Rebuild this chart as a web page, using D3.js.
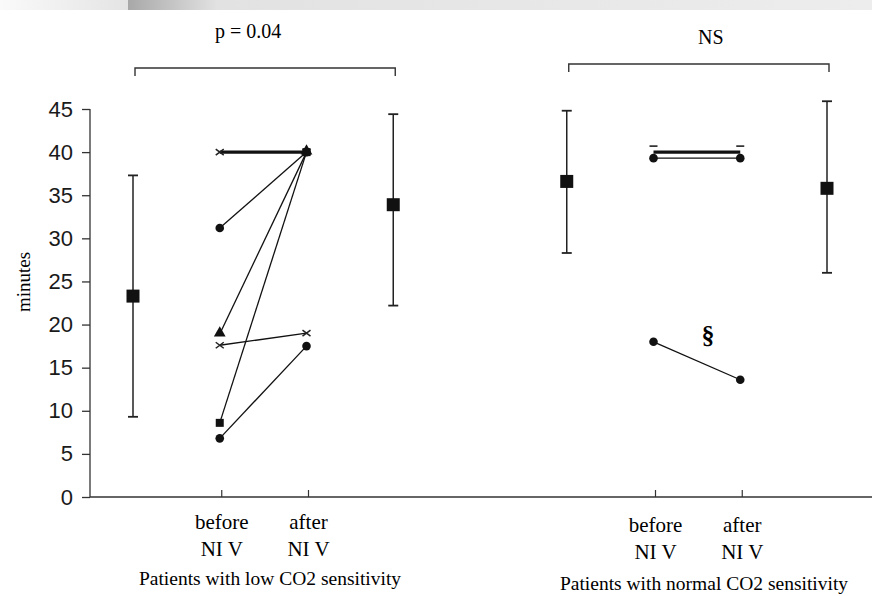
<!DOCTYPE html>
<meta charset="utf-8">
<style>
body { margin: 0; background: #fff; }
.serif { font-family: "Liberation Serif", "Times New Roman", serif; fill: #000; }
.tick text { font: 22px "Liberation Sans", Arial, sans-serif; fill: #1a1a1a; }
</style>
<svg width="872" height="596"></svg>
<script src="https://d3js.org/d3.v7.min.js"></script>
<script>

// slot positions along x (0..8); 4 is the empty gap between the two groups
var slotNames = ["lowMean1", "lowBefore", "lowAfter", "lowMean2", "gap",
                 "normMean1", "normBefore", "normAfter", "normMean2"];

// y axis
var yTicks = [0, 5, 10, 15, 20, 25, 30, 35, 40, 45];

// group summaries: mean and range bars either side of the individual lines
var summarySlots = [0, 3, 5, 8];
var summaryMean  = [23.3, 33.9, 36.6, 35.8];
var summaryLow   = [9.3, 22.2, 28.3, 26.0];
var summaryHigh  = [37.3, 44.4, 44.8, 45.9];

// individual patients, low CO2 sensitivity (before slot 1, after slot 2)
var lowBefore = [40, 31.2, 18.9, 17.6, 8.6, 6.8];
var lowAfter  = [40, 40, 40, 19.0, 40, 17.5];
var lowMarker = ["x", "circle", "triangle", "x", "square", "circle"];
var lowCount  = [2, 1, 1, 1, 1, 1];

// individual patients, normal CO2 sensitivity (before slot 6, after slot 7)
var normBefore = [40, 39.3, 18.0];
var normAfter  = [40, 39.3, 13.6];
var normMarker = ["dash", "circle", "circle"];
var normCount  = [2, 1, 1];

// x-axis labels
var xLabels = [
  {slot: 1, lines: ["before", "NI V"], dy: 0},
  {slot: 2, lines: ["after", "NI V"], dy: 0},
  {slot: 6, lines: ["before", "NI V"], dy: 3},
  {slot: 7, lines: ["after", "NI V"], dy: 3}
];
var groupTitles = ["Patients with low CO2 sensitivity", "Patients with normal CO2 sensitivity"];
var brackets = [{from: 0, to: 3, label: "p = 0.04"}, {from: 5, to: 8, label: "NS"}];

var svg = d3.select("svg");

// faint grey band at the very top of the scan
var defs = svg.append("defs");
var grad = defs.append("linearGradient").attr("id", "band");
grad.append("stop").attr("offset", "0%").attr("stop-color", "#a8a8a8");
grad.append("stop").attr("offset", "12%").attr("stop-color", "#e2e2e2");
grad.append("stop").attr("offset", "100%").attr("stop-color", "#ededed");
var grad2 = defs.append("linearGradient").attr("id", "band0");
grad2.append("stop").attr("offset", "0%").attr("stop-color", "#fafafa");
grad2.append("stop").attr("offset", "100%").attr("stop-color", "#e4e4e4");
svg.append("rect").attr("x", 0).attr("y", 0).attr("width", 128).attr("height", 10).attr("fill", "url(#band0)");
svg.append("rect").attr("x", 128).attr("y", 0).attr("width", 744).attr("height", 10).attr("fill", "url(#band)");

var x = d3.scaleLinear().domain([0, 8]).range([133, 827]);
var y = d3.scaleLinear().domain([0, 45]).range([497, 109]);

// y axis
svg.append("g")
    .attr("transform", "translate(90,0)")
    .call(d3.axisLeft(y).tickValues(yTicks).tickSize(8).tickPadding(9))
    .call(g => g.select(".domain").attr("d", "M0," + y(45) + "V" + y(0)).attr("stroke", "#333").attr("stroke-width", 1.3))
    .call(g => g.selectAll(".tick line").attr("stroke", "#333").attr("stroke-width", 1.3));

// x axis line with small upward ticks
svg.append("line").attr("x1", 90).attr("x2", 872).attr("y1", y(0)).attr("y2", y(0))
    .attr("stroke", "#333").attr("stroke-width", 1.3);
svg.selectAll(".xtick").data(xLabels).join("line")
    .attr("x1", d => x(d.slot) + 2).attr("x2", d => x(d.slot) + 2)
    .attr("y1", y(0) - 7).attr("y2", y(0))
    .attr("stroke", "#333").attr("stroke-width", 1.2);

svg.append("text").attr("class", "serif")
    .attr("transform", "translate(30,282) rotate(-90)")
    .attr("text-anchor", "middle").style("font-size", "19px").text("minutes");

xLabels.forEach(function(d) {
  d.lines.forEach(function(t, i) {
    svg.append("text").attr("class", "serif")
        .attr("x", x(d.slot) + 2).attr("y", 529 + d.dy + i * 27)
        .attr("text-anchor", "middle").style("font-size", "21px").text(t);
  });
});
svg.append("text").attr("class", "serif").attr("x", 270).attr("y", 585)
    .attr("text-anchor", "middle").style("font-size", "19.5px").text(groupTitles[0]);
svg.append("text").attr("class", "serif").attr("x", 704).attr("y", 590)
    .attr("text-anchor", "middle").style("font-size", "19.5px").text(groupTitles[1]);

// significance brackets
brackets.forEach(function(b, i) {
  var by = i === 0 ? 68 : 64;
  svg.append("path")
      .attr("d", "M" + (x(b.from) + 2) + "," + (by + 8) + "V" + by + "H" + (x(b.to) + 2) + "V" + (by + 8))
      .attr("fill", "none").attr("stroke", "#333").attr("stroke-width", 1.4);
  svg.append("text").attr("class", "serif")
      .attr("x", (x(b.from) + x(b.to)) / 2 + (i === 0 ? -15 : 14)).attr("y", i === 0 ? 38 : 44)
      .attr("text-anchor", "middle").style("font-size", "20px").text(b.label);
});

// patient lines
function drawGroup(before, after, markers, counts, s0, s1) {
  var g = svg.append("g");
  before.forEach(function(b, i) {
    g.append("line")
        .attr("x1", x(s0)).attr("y1", y(b)).attr("x2", x(s1)).attr("y2", y(after[i]))
        .attr("stroke", "#111").attr("stroke-width", counts[i] > 1 ? 3.2 : 1.3);
  });
  before.forEach(function(b, i) {
    drawMarker(g, markers[i], x(s0), y(b));
    drawMarker(g, markers[i], x(s1), y(after[i]));
  });
}

function drawMarker(g, type, cx, cy) {
  if (type === "circle") {
    g.append("circle").attr("cx", cx).attr("cy", cy).attr("r", 4.3).attr("fill", "#111");
  } else if (type === "square") {
    g.append("rect").attr("x", cx - 4).attr("y", cy - 4).attr("width", 8).attr("height", 8).attr("fill", "#111");
  } else if (type === "triangle") {
    g.append("path").attr("d", d3.symbol(d3.symbolTriangle, 60)()).attr("transform", "translate(" + cx + "," + (cy - 1) + ")").attr("fill", "#111");
  } else if (type === "x") {
    g.append("path").attr("d", "M-4,-3L4,3M-4,3L4,-3").attr("transform", "translate(" + cx + "," + cy + ")")
        .attr("stroke", "#222").attr("stroke-width", 1.5);
  } else if (type === "dash") {
    g.append("line").attr("x1", cx - 4).attr("x2", cx + 4).attr("y1", cy - 6).attr("y2", cy - 6)
        .attr("stroke", "#222").attr("stroke-width", 1.6);
  }
}

drawGroup(lowBefore, lowAfter, lowMarker, lowCount, 1, 2);
drawGroup(normBefore, normAfter, normMarker, normCount, 6, 7);

svg.append("text").attr("class", "serif").attr("x", 708).attr("y", 344)
    .attr("text-anchor", "middle").style("font-size", "26px").style("font-weight", "bold").text("§");

// mean and range bars
var sg = svg.append("g");
summarySlots.forEach(function(s, i) {
  var cx = x(s);
  sg.append("line").attr("x1", cx).attr("x2", cx).attr("y1", y(summaryLow[i])).attr("y2", y(summaryHigh[i]))
      .attr("stroke", "#222").attr("stroke-width", 1.5);
  [summaryLow[i], summaryHigh[i]].forEach(function(v) {
    sg.append("line").attr("x1", cx - 5).attr("x2", cx + 5).attr("y1", y(v)).attr("y2", y(v))
        .attr("stroke", "#222").attr("stroke-width", 1.8);
  });
  sg.append("rect").attr("x", cx - 6.5).attr("y", y(summaryMean[i]) - 6.5)
      .attr("width", 13).attr("height", 13).attr("fill", "#111");
});

</script>
